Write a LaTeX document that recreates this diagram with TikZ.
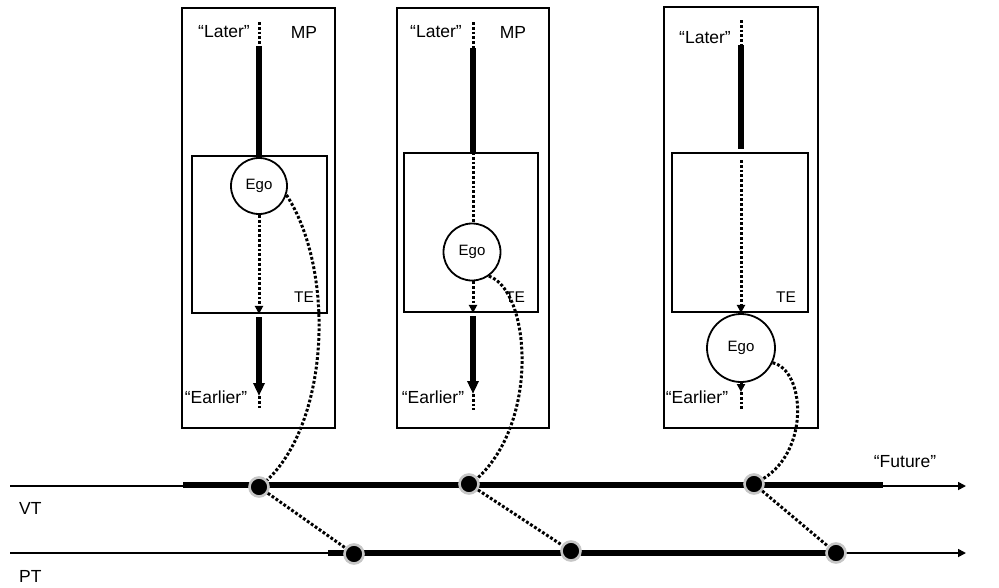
\documentclass[tikz,border=0pt]{standalone}
\usepackage{fontspec}
\setmainfont{Liberation Sans}
\usetikzlibrary{arrows.meta}
\begin{document}
\begin{tikzpicture}[x=1pt,y=-1pt,
  frame/.style={draw, line width=1.9pt, inner sep=0pt},
  thinl/.style={line width=1.7pt},
  heavy/.style={line width=5.2pt},
  dotl/.style={line width=3pt, dash pattern=on 2.8pt off 2pt},
  tip/.style={-{Triangle[length=8pt,width=8pt]}},
  bigtip/.style={-{Triangle[length=13pt,width=11pt]}},
  ego/.style={circle, draw, line width=1.8pt, fill=white, inner sep=0pt, font=\fontsize{15}{17}\selectfont},
  lbl/.style={inner sep=0pt, font=\fontsize{17.5}{19}\selectfont},
  mpl/.style={inner sep=0pt, font=\fontsize{17.5}{19}\selectfont},
  sml/.style={inner sep=0pt, font=\fontsize{15.5}{17}\selectfont},
  tdot/.style={circle, fill=black, draw=gray!45, line width=2.6pt, minimum size=19pt, inner sep=0pt},
]
\useasboundingbox (0,0) rectangle (999,587);
\fill[white] (0,0) rectangle (999,587);

% ---------- panel 1 ----------
\node[frame, minimum width=153pt, minimum height=420pt] (o1) at (258.5,218) {};
\node[frame, minimum width=135pt, minimum height=157pt] (i1) at (259.5,234.5) {};
\node[ego, minimum size=56pt] (e1) at (259,186) {Ego};
\node[lbl] (la1) at (224,32) {“Later”};
\node[mpl] (mp1) at (304,32) {MP};
\node[sml] (te1) at (304,297) {TE};
\node[lbl] (ea1) at (216,397) {“Earlier”};
\coordinate (t1) at (259,22);
\coordinate (a1) at (259,46);
\coordinate (b1) at (259,317);
\coordinate (c1) at (259,396);
\coordinate (f1) at (259,410);
\draw[dotl] (t1) -- (a1);
\draw[heavy] (a1) -- (e1 |- i1.north);
\draw[dotl,tip] (e1.south) -- (e1 |- i1.south);
\draw[heavy,bigtip] (b1) -- (c1);
\draw[dotl] (c1) -- (f1);

% ---------- panel 2 ----------
\node[frame, minimum width=152pt, minimum height=420pt] (o2) at (473,218) {};
\node[frame, minimum width=134pt, minimum height=159pt] (i2) at (471,232.5) {};
\node[ego, minimum size=57pt] (e2) at (472,252) {Ego};
\node[lbl] (la2) at (436,32) {“Later”};
\node[mpl] (mp2) at (513,32) {MP};
\node[sml] (te2) at (515,297) {TE};
\node[lbl] (ea2) at (433,397) {“Earlier”};
\coordinate (t2) at (473,22);
\coordinate (a2) at (473,48);
\coordinate (b2) at (473,316);
\coordinate (c2) at (473,394);
\coordinate (f2) at (473,410);
\draw[dotl] (t2) -- (a2);
\draw[heavy] (a2) -- (a2 |- i2.north);
\draw[dotl] (a2 |- i2.north) -- (a2 |- e2.north);
\draw[dotl,tip] (a2 |- e2.south) -- (a2 |- i2.south);
\draw[heavy,bigtip] (b2) -- (c2);
\draw[dotl] (c2) -- (f2);

% ---------- panel 3 ----------
\node[frame, minimum width=154pt, minimum height=421pt] (o3) at (741,217.5) {};
\node[frame, minimum width=136pt, minimum height=159pt] (i3) at (740,232.5) {};
\node[ego, minimum size=68pt] (e3) at (741,348) {Ego};
\node[lbl] (la3) at (705,38) {“Later”};
\node[sml] (te3) at (786,297) {TE};
\node[lbl] (ea3) at (697,397) {“Earlier”};
\coordinate (t3) at (741,20);
\coordinate (a3) at (741,45);
\coordinate (b3) at (741,149);
\coordinate (g3) at (741,160);
\coordinate (c3) at (741,392);
\coordinate (f3) at (741,410);
\draw[dotl] (t3) -- (a3);
\draw[heavy] (a3) -- (b3);
\draw[dotl,tip] (g3) -- (g3 |- i3.south);
\draw[dotl,tip] (e3.south) -- (c3);
\draw[dotl] (c3) -- (f3);

% ---------- time lines ----------
\coordinate (vs) at (10,486);
\coordinate (ve) at (966,486);
\coordinate (vh1) at (183,485);
\coordinate (vh2) at (883,485);
\coordinate (ps) at (10,553);
\coordinate (pe) at (966,553);
\coordinate (ph1) at (328,553);
\coordinate (ph2) at (846,553);
\draw[thinl,tip] (vs) -- (ve);
\draw[heavy] (vh1) -- (vh2);
\draw[thinl,tip] (ps) -- (pe);
\draw[heavy] (ph1) -- (ph2);
\node[lbl] (fut) at (905,462) {“Future”};
\node[lbl, anchor=west] (vt) at (19,508) {VT};
\node[lbl, anchor=west] (pt) at (19,576) {PT};

% ---------- dots ----------
\node[tdot] (d1) at (259,487) {};
\node[tdot] (d2) at (469,484) {};
\node[tdot] (d3) at (754,484) {};
\node[tdot] (p1) at (354,554) {};
\node[tdot] (p2) at (571,551) {};
\node[tdot] (p3) at (836,553) {};

% ---------- dotted connectors ----------
\draw[dotl] (e1.-18) .. controls (335,270) and (330,420) .. (d1.40);
\draw[dotl] (e2.-55) .. controls (530,290) and (540,420) .. (d2.35);
\draw[dotl] (e3.-25) .. controls (805,370) and (810,450) .. (d3.30);
\draw[dotl] (d1) -- (p1);
\draw[dotl] (d2) -- (p2);
\draw[dotl] (d3) -- (p3);
\end{tikzpicture}
\end{document}
